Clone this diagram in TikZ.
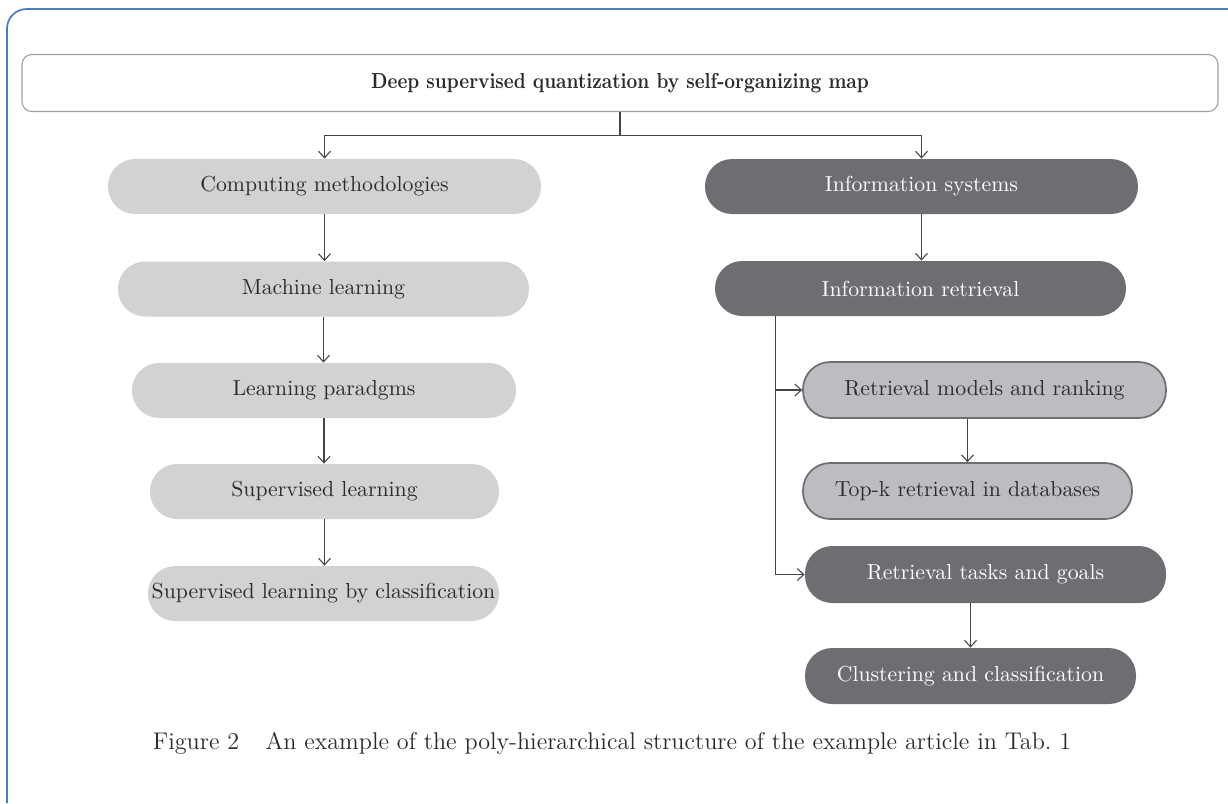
\documentclass[tikz,border=0pt]{standalone}
\usepackage{graphicx}
\usetikzlibrary{arrows.meta,calc}
\definecolor{framecol}{HTML}{4A7EBB}
\definecolor{lightfill}{HTML}{D1D2D4}
\definecolor{darkfill}{HTML}{6D6E71}
\definecolor{midfill}{HTML}{BCBDC0}
\definecolor{txt}{HTML}{2B2B2B}
\definecolor{linecol}{HTML}{444444}
\begin{document}
\begin{tikzpicture}[x=0.46pt,y=-0.46pt,
  base/.style={rounded corners=12.5pt,inner sep=0pt,align=center,font=\normalsize},
  lightbox/.style={base,fill=lightfill,text=txt},
  darkbox/.style={base,fill=darkfill,text=white},
  midbox/.style={base,fill=midfill,draw=darkfill,line width=0.8pt,text=txt},
  conn/.style={draw=linecol,line width=0.5pt},
  arr/.style={conn,-{Straight Barb[length=3pt,width=5.5pt]}}]
\useasboundingbox (0,0) rectangle (1228,803);
\draw[framecol,line width=0.8pt,rounded corners=9pt] (7,803) -- (7,9) -- (1228,9);

\node[base,draw=gray!75,line width=0.5pt,fill=white,text=txt,rounded corners=4.5pt,
  minimum width=1196*0.46pt,minimum height=57*0.46pt] (top) at (620,83)
  {\scalebox{0.86}[1]{\bfseries Deep supervised quantization by self-organizing map}};

\node[lightbox,minimum width=433*0.46pt,minimum height=55*0.46pt] (cm) at (324.5,186.5) {Computing methodologies};
\node[lightbox,minimum width=411*0.46pt,minimum height=55*0.46pt] (ml) at (323.5,289) {Machine learning};
\node[lightbox,minimum width=384*0.46pt,minimum height=55*0.46pt] (lp) at (324,390.5) {Learning paradgms};
\node[lightbox,minimum width=349*0.46pt,minimum height=55*0.46pt] (sl) at (324.5,491.5) {Supervised learning};
\node[lightbox,minimum width=351*0.46pt,minimum height=55*0.46pt] (slc) at (323.5,593.5) {Supervised learning by classification};

\node[darkbox,minimum width=433*0.46pt,minimum height=55*0.46pt] (is) at (921.5,186.5) {Information systems};
\node[darkbox,minimum width=411*0.46pt,minimum height=55*0.46pt] (ir) at (920.5,288.5) {Information retrieval};
\node[midbox,minimum width=363*0.46pt,minimum height=56*0.46pt] (rm) at (984.5,390) {Retrieval models and ranking};
\node[midbox,minimum width=329*0.46pt,minimum height=56*0.46pt] (tk) at (967.5,491) {Top-k retrieval in databases};
\node[darkbox,minimum width=361*0.46pt,minimum height=57*0.46pt] (rt) at (985.5,574.5) {Retrieval tasks and goals};
\node[darkbox,minimum width=331*0.46pt,minimum height=56*0.46pt] (cc) at (970.5,676) {Clustering and classification};

% connectors
\draw[conn] (top.south) -- ++(0,23) coordinate (j);
\draw[arr] (j) -| (cm.north);
\draw[arr] (j) -| (is.north);
\draw[arr] (cm.south) -- (cm.south |- ml.north);
\draw[arr] (ml.south) -- (ml.south |- lp.north);
\draw[arr] (lp.south) -- (lp.south |- sl.north);
\draw[arr] (sl.south) -- (sl.south |- slc.north);
\draw[arr] (is.south) -- (is.south |- ir.north);
\path (ir.south west) ++(61,0) coordinate (v0);
\draw[conn] (v0) -- (v0 |- rt.west);
\draw[arr] (v0 |- rm.west) -- (rm.west);
\draw[arr] (v0 |- rt.west) -- (rt.west);
\draw[arr] (tk.north |- rm.south) -- (tk.north);
\draw[arr] (cc.north |- rt.south) -- (cc.north);

\node[text=txt,inner sep=0pt,font=\fontsize{11.1}{13}\selectfont] (cap) at (612,743)
  {Figure 2\hspace{1.1em}An example of the poly-hierarchical structure of the example article in Tab.~1};
\end{tikzpicture}
\end{document}
